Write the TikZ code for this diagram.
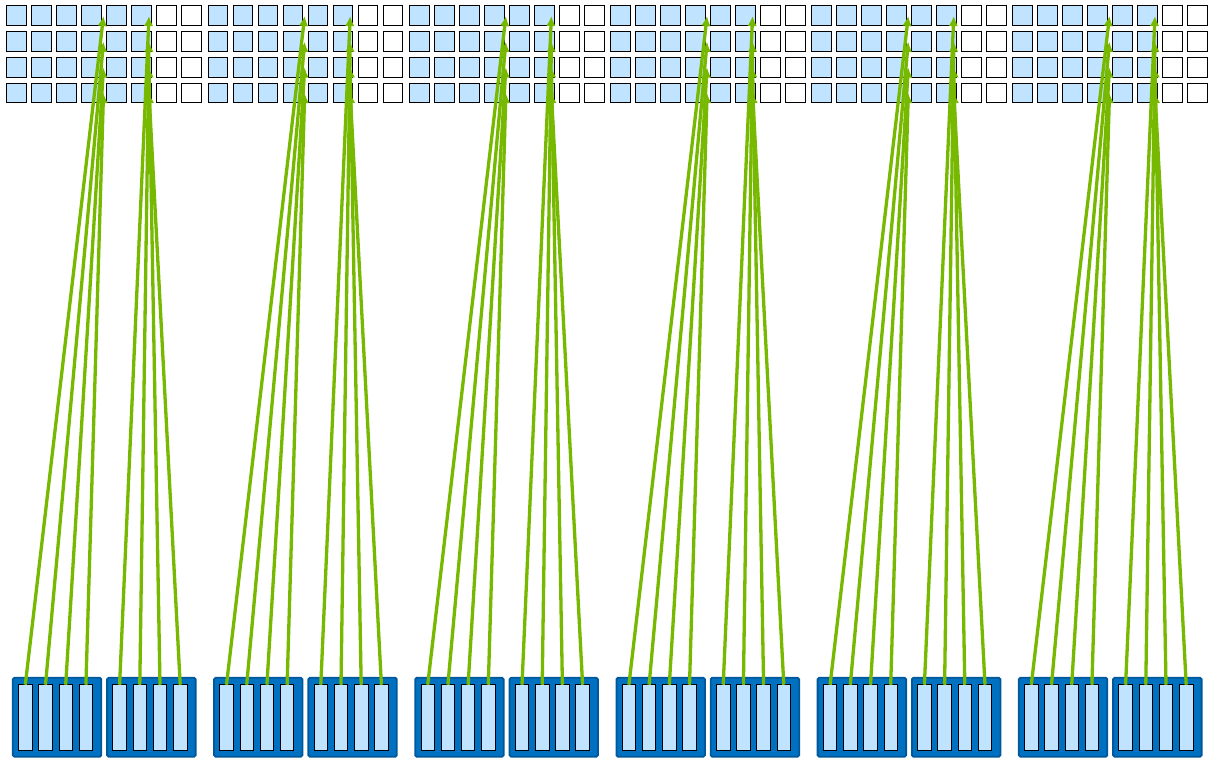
\documentclass[tikz,border=0pt]{standalone}
\usetikzlibrary{arrows.meta}
\definecolor{lb}{HTML}{C0E4FF}
\definecolor{boxblue}{HTML}{0070C0}
\definecolor{boxedge}{HTML}{00589A}
\definecolor{nvgreen}{HTML}{76B900}
\begin{document}
\begin{tikzpicture}[x=1pt,y=-1pt,
  cell/.style={draw=black,line width=0.9pt,minimum width=19.8pt,minimum height=19.8pt,inner sep=0pt,anchor=north west},
  usedcell/.style={cell,fill=lb},
  freecell/.style={cell,fill=white},
  unitbox/.style={draw=boxedge,fill=boxblue,line width=1.8pt,rounded corners=1.5pt,minimum width=88.5pt,minimum height=78.9pt,inner sep=0pt,anchor=north west},
  lane/.style={draw=black,fill=lb,line width=0.9pt,minimum width=13.5pt,minimum height=66.5pt,inner sep=0pt,anchor=north},
  feed/.style={draw=nvgreen,line width=3.3pt,-{Latex[length=10pt,width=9.5pt]}}]
\useasboundingbox (0,0) rectangle (1212,765);
\fill[white] (0,0) rectangle (1212,765);
% top grids
\foreach \g in {0,...,5}{
  \foreach \r in {0,...,3}{
    \foreach \c in {0,...,5}{
      \node[usedcell] (s-\g-\r-\c) at ({6.45+201.2*\g+25*\c},{5.45+25.75*\r}) {};
    }
    \foreach \c in {6,7}{
      \node[freecell] (s-\g-\r-\c) at ({6.45+201.2*\g+25*\c},{5.45+25.75*\r}) {};
    }
  }
}
% bottom units
\foreach \g in {0,...,5}{
  \foreach \k/\off in {0/5.9,1/100.2}{
    \node[unitbox] (u-\g-\k) at ({6+201.2*\g+\off},676.9) {};
    \foreach \i in {0,...,3}{
      \node[lane] (b-\g-\k-\i) at ({6+201.2*\g+\off-0.9+14.3+20.2*\i},683.75) {};
    }
  }
}
% arrows
\foreach \g in {0,...,5}{
  \foreach \k/\tx in {0/97.5,1/143}{
    \foreach \i in {0,...,3}{
      \coordinate (t-\g-\k-\i) at ({6+201.2*\g+\tx},{16+25.7*\i});
      \draw[feed] ([yshift=-1pt]b-\g-\k-\i.north) -- (t-\g-\k-\i);
    }
  }
}
\end{tikzpicture}
\end{document}
